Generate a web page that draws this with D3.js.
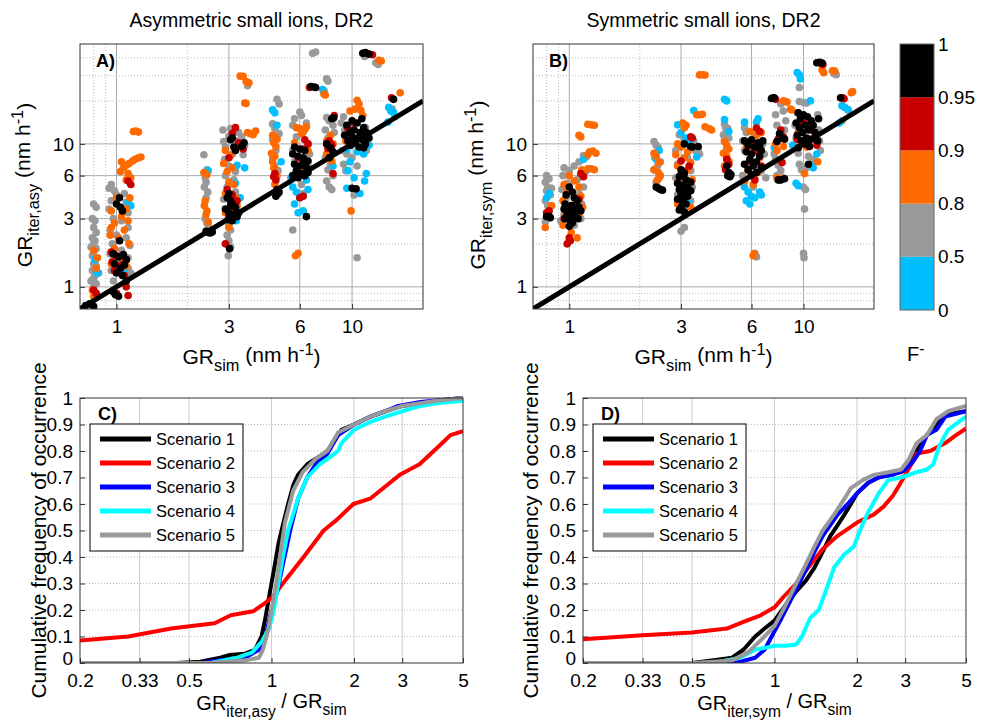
<!DOCTYPE html>
<html><head><meta charset="utf-8">
<script src="https://cdn.jsdelivr.net/npm/d3@7"></script>
<style>body{margin:0;background:#fff} text{font-family:"Liberation Sans",Arial,sans-serif;fill:#000}</style>
</head><body><svg id="c" width="981" height="723"></svg>
<script>
// ---------- DATA ----------
const scatterTicks = [1, 3, 6, 10];
const scatterMinorX = [0.8, 0.9, 2];
const scatterMinorY = [0.8, 0.9, 2, 20, 30, 40];
const classLabels = ["0", "0.5", "0.8", "0.9", "0.95", "1"];
const classColors = ["#00bfff", "#999999", "#ff6a00", "#c80000", "#000000"];

// Panel A (asymmetric) points [GR_sim, GR_iter]
const aGray = [[0.8,3.8],[0.82,3.6],[0.79,3.0],[0.81,2.9],[0.8,2.6],[0.82,2.4],[0.79,2.2],[0.81,2.1],[0.8,2.0],[0.78,1.9],[0.82,1.85],[0.8,1.75],[0.79,1.65],[0.81,1.5],[0.8,1.45],[0.82,1.4],[0.79,1.3],[0.81,1.2],[0.8,1.15],[0.78,1.1],[0.82,1.05],[0.8,1.0],[0.84,1.25],
 [0.95,5.2],[0.93,4.9],[0.98,4.7],[1.0,4.4],[1.08,4.5],[0.95,4.0],[1.1,3.9],[0.93,3.5],[1.12,3.3],[0.97,3.0],[1.05,2.9],[1.12,2.6],[0.94,2.5],[1.0,2.3],[1.1,2.2],[0.96,2.0],[1.14,1.95],[1.05,1.8],[0.94,1.7],[1.12,1.6],[1.0,1.45],[1.12,1.35],[0.95,1.3],[1.15,1.25],[1.1,1.15],[0.97,1.1],
 [2.35,8.4],[2.42,6.6],[2.38,5.8],[2.4,5.4],[2.36,5.0],[2.44,4.6],[2.4,4.2],[2.38,3.0],[2.42,2.8],[2.45,2.7],
 [2.83,12.5],[3.05,12.8],[3.0,11.3],[2.85,10.4],[2.9,9.5],[3.1,8.5],[2.88,7.8],[3.0,7.0],[3.2,6.4],[2.9,6.0],[3.15,5.6],[2.95,5.0],[3.2,4.6],[2.85,4.1],[3.0,2.7],[3.05,2.5],[2.95,2.3],[3.0,2.1],[3.05,1.9],[2.98,1.65],[3.3,12],[3.4,11.2],[3.45,8.4],[3.5,9.8],[3.25,10.5],[3.6,25.5],
 [4.8,20.5],[4.9,19.0],[4.6,13.8],[4.7,12.8],[4.9,11.8],[4.6,10.7],[4.75,9.0],[4.7,7.0],[4.85,6.5],[4.6,8.0],
 [6.0,16.7],[6.1,15.8],[5.7,15.0],[6.4,14.0],[5.6,13.5],[6.2,12.0],[5.8,11.2],[6.5,10.0],[5.6,9.0],[6.6,8.5],[5.7,7.5],[6.6,6.8],[6.1,5.2],[5.6,2.5],[6.2,4.5],
 [6.8,43],[7.0,44],[6.6,25.0],[7.8,28.5],[7.9,27.5],[7.6,23.5],
 [7.8,15.3],[8.0,14.5],[8.3,13.5],[7.7,12.5],[8.4,12.0],[7.9,11.0],[8.2,8.8],[7.7,8.0],[8.1,7.2],[7.9,6.6],[8.3,6.0],[7.8,5.5],[8.0,5.0],[8.2,4.8],
 [9.2,15.5],[9.0,14.0],[9.3,12.5],[11.4,13],[9.1,9.0],[9.5,8.5],[10.0,8.0],[9.2,7.2],[10.5,7.0],[9.4,6.5],[10.2,4.4],[10.5,1.6],[11.5,9.0],
 [11.3,40.8],[12.6,37],[12.9,36],[14.8,17.5],[15.2,15.5]];
const aCyan = [[0.81,1.55],[0.83,1.25],[1.12,3.9],[1.15,3.7],[1.08,1.25],[2.45,6.5],[3.25,7.1],[3.2,5.3],[3.22,2.9],[3.5,6.8],[3.35,4.2],[4.6,17.3],[4.7,16.5],[4.8,13.5],[5.0,7.5],[5.5,5.8],[5.6,5.0],[5.8,4.6],[6.0,4.2],[5.7,3.8],[6.2,3.4],[5.9,3.3],[6.4,5.6],[6.5,4.8],[7.5,24.0],[7.6,22.8],[8.3,7.0],[9.5,9.2],[10.5,8.8],[11.2,8.5],[9.6,6.5],[11.5,6.2],[10.2,5.8],[11.3,5.5],[9.5,4.9],[10.8,4.5],[9.8,7.5],[14.3,18],[14.6,17],[15,16.6],[14.2,14.2],[11.8,9.8]];
const aOrange = [[0.8,1.8],[0.82,1.35],[0.79,0.95],[0.8,0.86],[0.83,1.6],
 [1.12,6.2],[1.15,5.8],[1.1,5.6],[1.0,4.2],[0.95,3.4],[1.1,3.5],[1.05,3.1],[0.98,2.8],[1.12,2.9],[0.95,2.6],[1.08,2.5],[1.02,2.2],[0.94,2.3],[1.13,2.0],[0.98,1.85],[1.06,1.55],[0.95,1.45],[1.1,1.4],[1.14,4.2],
 [1.04,6.4],[1.07,6.8],[1.1,7.1],[1.13,7.3],[1.17,7.6],[1.2,7.8],[1.24,8.0],[1.27,8.1],[1.05,7.5],[1.18,12.2],[1.24,12.1],[1.21,12.3],
 [2.35,6.3],[2.42,6.1],[2.38,4.0],[2.36,3.7],[2.42,3.4],[2.4,3.2],[2.45,2.85],
 [2.9,9.0],[3.05,8.3],[2.85,7.3],[3.1,6.8],[2.95,6.4],[3.0,5.4],[3.15,5.2],[2.9,4.5],[3.2,4.2],[3.25,3.7],[2.9,3.3],[3.1,3.1],[3.0,2.6],[3.6,12.0],[3.7,11.8],[3.8,11.6],[3.9,12.3],[3.35,29.8],[3.45,29.7],[3.55,27.3],[3.65,26.8],[3.5,19.3],[3.55,19.2],
 [4.6,11.5],[4.7,11.2],[4.8,10.8],[4.65,10.2],[4.75,9.6],[4.55,8.6],[4.7,8.2],[4.6,7.5],[4.65,6.8],[4.8,6.0],[4.7,5.2],
 [5.8,13.0],[6.0,12.8],[6.3,12.6],[6.4,13.2],[6.1,11.8],[5.7,10.2],[6.5,9.0],[6.2,7.0],[5.9,1.72],[5.75,1.65],[6.3,7.8],[7.6,22.3],[7.7,22.0],
 [8.1,11.5],[7.8,10.5],[8.3,10.0],[8.0,9.0],[7.8,8.5],[8.2,7.6],
 [10.5,20.2],[10.7,19.0],[10.3,17.5],[10.9,17.2],[9.8,17.0],[11.1,15.8],[9.9,3.4],[11.2,11.5],[9.4,10.5],
 [13.0,38.5],[13.3,38.0],[16.0,22.8]];
const aRed = [[0.8,0.95],[0.82,0.9],[1.12,5.5],[1.15,5.2],[1.0,1.65],[0.96,1.5],[1.05,1.42],[1.1,1.55],[0.98,1.3],[1.08,1.2],[1.0,0.9],[1.12,0.87],[1.1,1.0],[0.95,1.75],
 [3.2,13.0],[3.1,11.8],[3.2,9.3],[3.0,8.0],[2.95,4.8],[3.1,4.4],[3.25,4.0],[3.0,3.2],[3.15,3.6],[2.9,2.0],[3.3,10.2],[3.45,9.2],
 [4.7,6.2],[4.75,5.6],[4.65,5.9],
 [6.3,10.7],[6.5,10.0],[6.2,9.2],[5.9,8.0],[6.0,4.2],[6.2,4.3],[6.6,24.8],
 [8.0,10.5],[8.2,9.8],[7.9,9.3],[8.3,6.2],[8.4,15.8],
 [10.2,14.0],[9.6,12.8],[10.8,11.2],[10.0,10.5],[11.3,10.2],[11.6,42.8],[12.2,42],[14.7,21]];
const aBlack = [[0.74,0.74],[0.77,0.76],[0.8,0.73],
 [1.03,4.2],[1.0,3.8],[1.04,3.6],[1.06,3.4],[1.03,2.1],[0.97,1.7],[1.02,1.62],[1.07,1.68],[1.1,1.55],[0.98,1.45],[1.04,1.35],[1.08,1.42],[1.0,1.25],[1.06,1.2],[0.97,0.92],[0.99,0.88],[1.02,0.86],[1.1,1.1],
 [2.4,2.45],[2.45,2.4],[2.5,2.38],[2.55,2.42],
 [3.1,11.0],[3.05,10.7],[3.15,9.5],[3.2,9.0],[3.0,4.5],[2.95,4.2],[3.05,4.0],[3.1,3.8],[3.2,3.6],[2.9,3.5],[3.0,3.3],[3.12,3.2],[3.25,3.1],[2.98,2.95],[3.1,2.9],[3.02,1.85],[3.05,3.7],[3.3,3.3],[3.4,9.6],[3.48,10.2],
 [4.8,4.8],[4.85,4.5],[4.75,4.3],[4.9,4.6],
 [5.7,9.5],[6.0,9.2],[6.3,9.0],[5.6,8.5],[5.9,8.2],[6.2,8.0],[6.5,7.6],[5.7,7.2],[6.0,7.0],[6.4,6.8],[5.8,6.5],[6.1,6.2],[6.3,6.0],[5.6,6.0],[5.9,5.8],[6.5,6.3],[6.2,7.4],[6.4,3.1],[6.7,25.2],[6.9,25.0],[7.0,24.8],
 [8.2,15.0],[8.35,15.2],[7.8,10.0],[8.1,9.4],[8.3,8.8],[8.0,8.0],
 [11.0,15.0],[10.0,14.5],[10.5,14.0],[9.5,13.5],[11.2,13.0],[10.2,12.5],[9.8,12.0],[10.8,12.0],[11.5,12.0],[9.3,11.5],[10.0,11.2],[10.6,11.0],[11.0,10.8],[9.6,10.5],[10.3,10.2],[11.4,10.0],[9.9,9.8],[10.7,9.5],[11.2,9.4],[10.0,4.9],[10.4,4.85],[11.8,11.0],
 [11.1,43],[11.4,43.5],[11.8,42.5],[15.0,20.5]];

// Panel B (symmetric) points
const bGray = [[0.8,6.0],[0.82,5.7],[0.79,5.4],[0.81,5.0],[0.8,4.7],[0.83,4.4],[0.79,4.0],[0.81,3.7],[0.82,3.5],[0.8,3.0],[0.79,2.85],[0.84,4.9],
 [1.05,7.0],[1.1,7.5],[0.95,6.8],[1.0,6.5],[1.12,6.0],[0.94,6.0],[1.08,5.6],[0.98,5.3],[1.15,5.0],[0.93,4.8],[1.1,4.5],[0.96,4.1],[1.13,3.8],[0.95,3.2],[1.12,3.0],[1.18,8.1],[1.15,8.3],[0.92,2.9],[1.05,2.7],
 [2.3,10.4],[2.35,9.8],[2.4,9.4],[2.32,8.0],[2.45,7.5],[2.38,7.0],[2.3,6.6],[2.42,5.8],[2.35,5.4],
 [2.95,11.6],[3.1,10.8],[2.85,9.0],[3.2,8.0],[2.9,7.2],[3.3,6.5],[2.85,5.8],[3.35,5.0],[2.9,4.4],[3.3,4.0],[3.0,2.45],[3.1,2.6],[3.45,9.0],[3.6,8.5],[3.4,10.5],[3.55,9.2],
 [4.6,13.8],[4.65,13.0],[4.7,12.3],[4.55,11.6],[4.8,11.0],[4.6,10.6],[4.7,9.2],[4.75,12.8],
 [5.6,13.0],[5.7,12.0],[6.2,11.5],[5.5,10.5],[6.7,10.0],[5.6,9.0],[6.8,8.5],[5.8,7.0],[6.6,6.5],[5.5,6.0],[6.9,5.8],[6.2,1.72],[6.3,1.62],[6.1,5.0],
 [8.0,19.0],[8.2,17.0],[7.6,16.0],[8.4,14.5],[7.7,13.5],[8.3,12.5],[7.5,8.5],[7.6,7.8],[7.8,7.1],[8.0,6.5],[7.7,6.0],[8.2,5.8],
 [9.6,19.8],[10.0,19.5],[10.3,19.3],[9.4,16.5],[11.5,16.0],[9.2,13.5],[11.6,12.5],[9.3,11.0],[11.7,10.5],[9.5,8.6],[10.5,8.2],[11.0,7.8],[9.6,7.2],[10.3,6.8],[9.8,6.6],[10.0,5.0],[10.2,4.8],[10.1,3.5],[10.0,1.72],[10.05,1.6],[9.6,24.8],[11.8,9.0],
 [13.5,31],[13.8,30.5],[15.5,17.2],[14.6,14.5]];
const bCyan = [[0.8,4.2],[0.82,4.5],[1.15,7.8],[1.12,3.5],[1.18,6.5],[2.42,9.0],[2.35,7.8],[2.9,13.6],[3.0,12.0],[3.15,11.0],[3.25,10.3],[3.4,17.1],[3.5,8.1],[3.3,5.5],[3.2,3.9],[4.6,20.5],[4.7,20],[4.6,14.8],[4.8,12.2],[5.6,14.2],[6.4,15.0],[6.3,14.2],[5.6,5.0],[5.8,4.6],[6.0,4.3],[5.7,4.0],[6.2,4.2],[6.5,4.6],[6.6,4.4],[5.9,3.8],[7.5,9.4],[9.4,31.6],[9.6,30.5],[9.7,28.5],[10.7,20.0],[10.9,7.1],[11.0,6.8],[9.5,5.1],[9.3,5.3],[11.4,8.5],[14.6,18.5],[15.0,18.0],[15.5,17.4],[14.2,14.0],[9.0,9.8]];
const bOrange = [[0.84,3.7],[0.79,2.6],[0.81,3.2],
 [1.0,6.0],[1.05,5.5],[0.95,5.2],[1.1,5.0],[0.98,4.6],[1.12,4.3],[0.94,4.0],[1.06,3.8],[1.14,3.6],[0.96,3.4],[1.1,3.2],[0.94,2.7],[1.02,2.4],[1.08,2.2],[1.13,6.6],[1.16,6.3],
 [1.2,6.7],[1.24,6.7],[1.28,6.6],[1.22,8.8],[1.26,8.9],[1.3,8.6],[1.2,8.4],[1.1,11.5],[1.12,11.2],[1.2,13.7],[1.24,13.6],[1.28,13.5],
 [2.3,8.6],[2.35,8.2],[2.42,7.4],[2.3,6.6],[2.4,6.3],[2.45,6.0],[2.38,5.6],
 [3.05,14.0],[3.15,13.5],[3.1,13.0],[2.9,10.0],[3.0,9.5],[3.2,8.8],[2.85,8.4],[3.1,8.0],[3.3,7.4],[2.9,7.0],[3.2,6.6],[3.0,6.2],[3.35,5.6],[2.95,5.4],[3.2,4.8],[3.0,4.2],[3.3,3.6],[2.9,3.8],[3.6,30.4],[3.7,30.5],[3.8,30.3],[3.5,16.0],[3.6,16.0],[3.7,16.1],[3.8,13.2],[3.95,12.8],[4.05,12.5],
 [4.6,10.4],[4.7,9.8],[4.8,9.2],[4.55,8.6],[4.7,8.2],[4.8,7.6],[4.6,7.0],
 [5.9,12.2],[6.3,11.5],[6.6,12.0],[6.0,10.0],[5.7,9.5],[6.5,8.0],[5.8,6.5],[6.4,6.3],[6.1,1.65],[6.15,1.7],[5.6,5.5],[6.1,5.2],
 [8.2,20.0],[8.4,19.8],[8.5,19.6],[8.8,17.5],[8.9,17.3],[7.6,10.0],[8.2,9.6],[7.7,9.0],[7.7,5.8],[7.9,5.6],[8.1,5.7],
 [9.8,15.5],[10.6,14.0],[9.5,12.0],[11.2,11.0],[10.1,6.2],[10.3,9.5],[9.7,10.2],[11.5,7.5],
 [12.0,33],[12.2,31.5],[13.3,32.5],[13.6,32.3],[16.0,22.8],[16.2,23.2]];
const bRed = [[0.8,3.3],[0.82,3.4],[1.12,6.2],[1.15,5.9],[1.01,2.1],[1.0,2.2],[0.98,2.0],[1.05,3.6],[1.1,4.1],[0.95,3.0],
 [3.3,11.2],[3.35,11.0],[3.0,7.6],[3.1,6.4],[2.95,5.2],[3.2,4.6],[3.05,3.9],[3.25,7.0],
 [4.7,7.8],[4.8,7.2],[4.65,6.6],
 [6.3,12.9],[6.5,12.2],[6.1,9.5],[6.4,8.8],[5.9,7.6],[6.6,7.0],[6.2,5.6],[6.0,6.0],
 [7.4,21.0],[7.6,20.5],[8.0,12.5],[8.2,11.2],[7.8,10.8],[8.1,7.4],
 [10.0,14.0],[10.8,12.5],[9.4,10.8],[10.5,10.0],[11.4,9.8],[11.9,36.5],[12.1,36.0],[14.7,21],[14.9,20.7]];
const bBlack = [[0.8,3.1],[0.82,3.1],[0.83,3.05],
 [1.0,5.0],[1.03,4.6],[0.97,4.4],[1.05,4.2],[1.08,4.0],[0.96,3.8],[1.02,3.7],[1.1,3.6],[0.95,3.5],[1.0,3.4],[1.06,3.3],[1.12,3.4],[0.98,3.2],[1.04,3.1],[1.09,3.0],[0.96,3.0],[1.01,2.9],[1.03,2.8],[1.0,2.65],[1.06,3.5],
 [2.35,5.0],[2.4,4.9],[2.45,4.8],[2.5,4.75],
 [3.1,10.0],[3.3,9.6],[3.35,9.5],[3.0,6.6],[3.1,6.2],[2.95,5.9],[3.15,5.6],[2.9,5.3],[3.05,5.1],[3.2,5.0],[2.95,4.8],[3.1,4.6],[3.0,4.4],[3.2,4.3],[2.9,4.1],[3.05,4.0],[3.15,3.8],[3.0,3.6],[2.95,3.45],[3.1,3.35],[3.3,5.4],[3.3,4.7],[3.55,9.6],
 [4.8,6.3],[4.9,6.1],[4.85,5.9],[4.75,6.0],[4.7,7.0],
 [5.6,10.5],[6.0,10.7],[6.4,10.2],[5.8,9.8],[6.2,9.5],[6.6,9.0],[5.7,8.8],[6.0,8.5],[6.5,8.2],[5.9,7.8],[6.3,7.5],[5.6,7.2],[6.1,7.0],[6.6,6.8],[5.8,6.6],[6.3,6.3],[6.0,6.1],[6.5,9.8],[6.7,10.5],
 [7.5,21.0],[7.3,20.8],[7.9,11.8],[8.1,11.0],[7.7,10.4],[8.3,10.8],[7.8,5.6],[8.0,5.6],[8.3,5.7],
 [9.5,16.5],[10.0,16.0],[10.4,15.5],[9.7,15.0],[10.8,14.5],[9.3,14.0],[10.2,13.5],[11.0,13.5],[9.6,13.0],[10.5,12.5],[9.9,12.0],[11.2,12.0],[9.4,11.5],[10.3,11.0],[10.8,10.8],[9.8,10.5],[11.5,10.5],[10.1,10.0],[10.6,9.6],[9.5,9.4],[10.5,7.2],[11.6,15.0],
 [11.4,37],[11.7,37.2],[12.0,36.8],[14.4,21.0]];

// CDF panels: [ratio, cumulative frequency]
const cdfTicksX = [0.2, 0.33, 0.5, 1, 2, 3, 5];
const cdfTicksY = [0, 0.1, 0.2, 0.3, 0.4, 0.5, 0.6, 0.7, 0.8, 0.9, 1];
const scenarioNames = ["Scenario 1", "Scenario 2", "Scenario 3", "Scenario 4", "Scenario 5"];
const scenarioColors = ["#000000", "#ff0000", "#0000ff", "#00ffff", "#999999"];
const cS1 = [[0.2,0],[0.45,0],[0.55,0.005],[0.65,0.02],[0.7,0.03],[0.8,0.035],[0.87,0.05],[0.92,0.1],[0.95,0.17],[0.98,0.25],[1.02,0.35],[1.06,0.45],[1.1,0.52],[1.15,0.6],[1.2,0.67],[1.25,0.71],[1.35,0.75],[1.5,0.78],[1.6,0.8],[1.7,0.84],[1.8,0.88],[2.0,0.9],[2.3,0.93],[2.6,0.95],[3,0.97],[4,0.99],[5,1.0]];
const cS2 = [[0.2,0.085],[0.3,0.1],[0.43,0.13],[0.62,0.15],[0.71,0.18],[0.857,0.195],[0.93,0.22],[1.01,0.25],[1.1,0.3],[1.31,0.4],[1.55,0.5],[1.73,0.54],[1.99,0.6],[2.29,0.62],[2.63,0.67],[2.94,0.71],[3.47,0.75],[4.1,0.82],[4.5,0.86],[5,0.875]];
const cS3 = [[0.2,0],[0.55,0],[0.65,0.01],[0.8,0.02],[0.9,0.05],[0.95,0.1],[1.0,0.2],[1.05,0.27],[1.1,0.37],[1.17,0.5],[1.25,0.62],[1.35,0.7],[1.45,0.75],[1.6,0.79],[1.75,0.86],[2.0,0.9],[2.3,0.93],[2.6,0.95],[2.9,0.97],[3.5,0.985],[5,1.0]];
const cS4 = [[0.2,0],[0.6,0],[0.75,0.02],[0.85,0.04],[0.92,0.08],[0.98,0.13],[1.02,0.2],[1.06,0.3],[1.1,0.4],[1.15,0.5],[1.25,0.62],[1.35,0.7],[1.5,0.75],[1.65,0.78],[1.75,0.8],[1.8,0.83],[2.0,0.88],[2.3,0.91],[2.6,0.93],[3.0,0.95],[3.5,0.97],[4,0.98],[5,0.99]];
const cS5 = [[0.2,0],[0.6,0],[0.8,0.01],[0.9,0.02],[0.93,0.05],[0.97,0.12],[1.0,0.2],[1.04,0.3],[1.08,0.42],[1.12,0.53],[1.2,0.65],[1.3,0.72],[1.45,0.77],[1.6,0.8],[1.75,0.87],[2.0,0.9],[2.3,0.93],[2.6,0.95],[3,0.97],[4,0.99],[5,1.0]];
const dS1 = [[0.2,0],[0.5,0],[0.6,0.01],[0.7,0.02],[0.77,0.05],[0.85,0.1],[0.92,0.13],[1.0,0.16],[1.1,0.22],[1.2,0.27],[1.3,0.31],[1.4,0.36],[1.5,0.42],[1.6,0.48],[1.7,0.52],[1.8,0.56],[1.9,0.6],[2.0,0.64],[2.2,0.68],[2.5,0.71],[2.9,0.72],[3.1,0.74],[3.3,0.8],[3.6,0.86],[4.0,0.91],[4.3,0.94],[5,0.95]];
const dS2 = [[0.2,0.09],[0.33,0.105],[0.5,0.115],[0.67,0.13],[0.77,0.155],[0.89,0.18],[1.0,0.21],[1.08,0.25],[1.2,0.3],[1.35,0.37],[1.5,0.43],[1.7,0.48],[2.0,0.53],[2.3,0.56],[2.5,0.59],[2.7,0.63],[2.85,0.67],[3.0,0.71],[3.2,0.76],[3.3,0.79],[3.7,0.8],[4.2,0.83],[4.6,0.86],[5,0.885]];
const dS3 = [[0.2,0],[0.6,0],[0.75,0.005],[0.85,0.02],[0.92,0.05],[1.0,0.12],[1.05,0.16],[1.15,0.24],[1.3,0.35],[1.4,0.42],[1.5,0.48],[1.7,0.56],[1.85,0.6],[2.0,0.64],[2.2,0.68],[2.4,0.7],[2.7,0.71],[3.0,0.73],[3.2,0.76],[3.4,0.8],[3.6,0.86],[3.9,0.88],[4.2,0.93],[4.6,0.94],[5,0.95]];
const dS4 = [[0.2,0],[0.6,0],[0.75,0.02],[0.85,0.05],[0.95,0.06],[1.0,0.065],[1.1,0.065],[1.2,0.07],[1.26,0.1],[1.35,0.17],[1.45,0.2],[1.55,0.28],[1.65,0.36],[1.8,0.41],[1.95,0.44],[2.05,0.5],[2.2,0.57],[2.4,0.64],[2.6,0.69],[2.9,0.7],[3.3,0.72],[3.6,0.73],[3.8,0.75],[4.0,0.82],[4.3,0.88],[4.7,0.91],[5,0.93]];
const dS5 = [[0.2,0],[0.5,0],[0.6,0.005],[0.7,0.01],[0.8,0.04],[0.9,0.09],[1.0,0.14],[1.1,0.22],[1.2,0.3],[1.3,0.37],[1.4,0.44],[1.5,0.5],[1.65,0.56],[1.8,0.62],[1.9,0.66],[2.1,0.69],[2.3,0.71],[2.6,0.72],[2.9,0.73],[3.1,0.77],[3.3,0.83],[3.6,0.86],[3.9,0.92],[4.3,0.95],[5,0.97]];

// ---------- DRAW ----------
const svg = d3.select("#c");
const FS = 19;    // tick labels
const LFS = 21;   // axis labels

function rich(g, parts, x, y, opts) {
  opts = opts || {};
  const t = g.append("text").attr("x", x).attr("y", y)
    .attr("font-size", opts.size || LFS).attr("text-anchor", opts.anchor || "middle");
  if (opts.rotate) t.attr("transform", `rotate(-90,${x},${y})`);
  let shift = 0;
  parts.forEach(p => {
    const [s, k] = p;
    const target = k === "sub" ? 0.42 : (k === "sup" ? -0.45 : 0);
    const ts = t.append("tspan").text(s).attr("dy", (target - shift) + "em");
    if (k) ts.attr("font-size", "0.78em");
    shift = target;
  });
  return t;
}

function scatterPanel(o) {
  const g = svg.append("g");
  const x = d3.scaleLog().domain([0.7, 20]).range([o.left, o.right]);
  const y = d3.scaleLog().domain([0.7, 50]).range([309, 44]);
  const [x0, x1] = x.range(), [y0, y1] = y.range();
  scatterMinorX.forEach(v => g.append("line").attr("x1", x(v)).attr("x2", x(v)).attr("y1", y0).attr("y2", y1).attr("stroke", "#bbb").attr("stroke-dasharray", "1,2"));
  scatterMinorY.forEach(v => g.append("line").attr("y1", y(v)).attr("y2", y(v)).attr("x1", x0).attr("x2", x1).attr("stroke", "#bbb").attr("stroke-dasharray", "1,2"));
  scatterTicks.forEach(v => {
    g.append("line").attr("x1", x(v)).attr("x2", x(v)).attr("y1", y0).attr("y2", y1).attr("stroke", "#aaa");
    g.append("line").attr("y1", y(v)).attr("y2", y(v)).attr("x1", x0).attr("x2", x1).attr("stroke", "#aaa");
  });
  const cid = "clip" + o.id;
  svg.append("clipPath").attr("id", cid).append("rect").attr("x", x0).attr("y", y1).attr("width", x1 - x0).attr("height", y0 - y1);
  const pg = g.append("g").attr("clip-path", `url(#${cid})`);
  const sets = [[o.gray, classColors[1]], [o.cyan, classColors[0]], [o.orange, classColors[2]], [o.red, classColors[3]], [o.black, classColors[4]]];
  sets.forEach(([pts, col]) => {
    pg.selectAll(null).data(pts).enter().append("circle")
      .attr("cx", d => x(d[0])).attr("cy", d => y(d[1])).attr("r", 3.8).attr("fill", col);
  });
  pg.append("line").attr("x1", x(0.7)).attr("y1", y(0.7)).attr("x2", x(20)).attr("y2", y(20))
    .attr("stroke", "#000").attr("stroke-width", 5);
  g.append("rect").attr("x", x0).attr("y", y1).attr("width", x1 - x0).attr("height", y0 - y1).attr("fill", "none").attr("stroke", "#333");
  const ax = g.append("g").attr("transform", `translate(0,${y0})`).call(d3.axisBottom(x).tickValues(scatterTicks).tickFormat(d3.format("d")).tickSizeInner(-5).tickSizeOuter(0).tickPadding(11));
  const ay = g.append("g").attr("transform", `translate(${x0},0)`).call(d3.axisLeft(y).tickValues(scatterTicks).tickFormat(d3.format("d")).tickSizeInner(-5).tickSizeOuter(0).tickPadding(6));
  [ax, ay].forEach(a => { a.select(".domain").remove(); a.selectAll("text").attr("font-size", FS).attr("font-family", "Liberation Sans, Arial, sans-serif"); a.selectAll("line").attr("stroke", "#333"); });
  ax.selectAll("text").attr("dy", "0.71em");
  g.append("text").attr("x", x0 + 16).attr("y", 67).attr("font-size", 18).attr("font-weight", "bold").text(o.letter);
  g.append("text").attr("x", (x0 + x1) / 2).attr("y", 27).attr("text-anchor", "middle").attr("font-size", 19.5).text(o.title);
  rich(g, [["GR"], ["sim", "sub"], [" (nm h"], ["-1", "sup"], [")"]], (x0 + x1) / 2, 364);
  rich(g, [["GR"], ["iter," + o.sub, "sub"], [" (nm h"], ["-1", "sup"], [")"]], o.ylabX, 185, { rotate: true });
}

scatterPanel({ id: "A", left: 80, right: 423, letter: "A)", title: "Asymmetric small ions, DR2", sub: "asy", ylabX: 32,
  gray: aGray, cyan: aCyan, orange: aOrange, red: aRed, black: aBlack });
scatterPanel({ id: "B", left: 533, right: 874, letter: "B)", title: "Symmetric small ions, DR2", sub: "sym", ylabX: 485,
  gray: bGray, cyan: bCyan, orange: bOrange, red: bRed, black: bBlack });

// colorbar
(function () {
  const g = svg.append("g");
  const cb = d3.scaleBand().domain(d3.range(classColors.length)).range([310, 44]).paddingInner(0).paddingOuter(0);
  classColors.forEach((c, i) => g.append("rect").attr("x", 900).attr("y", cb(i)).attr("width", 34).attr("height", cb.bandwidth()).attr("fill", c));
  g.append("rect").attr("x", 900).attr("y", 44).attr("width", 34).attr("height", 266).attr("fill", "none").attr("stroke", "#666");
  classLabels.forEach((l, i) => {
    const yy = i < classColors.length ? cb(i) + cb.bandwidth() : cb(i - 1);
    g.append("text").attr("x", 938).attr("y", yy + 6.5).attr("font-size", FS).text(l);
  });
  rich(g, [["F"], ["-", "sup"]], 907, 361, { anchor: "start", size: 20 });
})();

function cdfPanel(o) {
  const g = svg.append("g");
  const x = d3.scaleLog().domain([0.2, 5]).range([o.left, o.left + 383]);
  const y = d3.scaleLinear().domain([0, 1]).range([663, 398]);
  const [x0, x1] = x.range(), [y0, y1] = y.range();
  cdfTicksX.slice(1, -1).forEach(v => g.append("line").attr("x1", x(v)).attr("x2", x(v)).attr("y1", y0).attr("y2", y1).attr("stroke", "#ccc"));
  cdfTicksY.slice(1, -1).forEach(v => g.append("line").attr("y1", y(v)).attr("y2", y(v)).attr("x1", x0).attr("x2", x1).attr("stroke", "#bbb").attr("stroke-dasharray", "1,2"));
  const cid = "clip" + o.id;
  svg.append("clipPath").attr("id", cid).append("rect").attr("x", x0).attr("y", y1 - 3).attr("width", x1 - x0).attr("height", y0 - y1 + 3);
  const lg = g.append("g").attr("clip-path", `url(#${cid})`);
  const line = d3.line().x(d => x(d[0])).y(d => y(d[1]));
  o.series.forEach((s, i) => lg.append("path").attr("d", line(s)).attr("fill", "none").attr("stroke", scenarioColors[i]).attr("stroke-width", 4).attr("stroke-linejoin", "round"));
  g.append("rect").attr("x", x0).attr("y", y1).attr("width", x1 - x0).attr("height", y0 - y1).attr("fill", "none").attr("stroke", "#333");
  const ax = g.append("g").attr("transform", `translate(0,${y0})`).call(d3.axisBottom(x).tickValues(cdfTicksX).tickFormat(d => String(d)).tickSizeInner(-5).tickSizeOuter(0).tickPadding(11));
  const ay = g.append("g").attr("transform", `translate(${x0},0)`).call(d3.axisLeft(y).tickValues(cdfTicksY).tickFormat(d => String(d)).tickSizeInner(-5).tickSizeOuter(0).tickPadding(7));
  [ax, ay].forEach(a => { a.select(".domain").remove(); a.selectAll("text").attr("font-size", FS).attr("font-family", "Liberation Sans, Arial, sans-serif"); a.selectAll("line").attr("stroke", "#333"); });
  ax.selectAll("text").attr("dy", "0.71em");
  ay.selectAll("text").filter(d => d === 0).attr("dy", "0.1em");
  g.append("text").attr("x", x0 + 18).attr("y", 420).attr("font-size", 18).attr("font-weight", "bold").text(o.letter);
  const lx = x0 + 10, ly = 424;
  g.append("rect").attr("x", lx).attr("y", ly).attr("width", 153).attr("height", 127).attr("fill", "#fff").attr("stroke", "#000");
  scenarioNames.forEach((n, i) => {
    const yy = ly + 15 + i * 24;
    g.append("line").attr("x1", lx + 10).attr("x2", lx + 61).attr("y1", yy).attr("y2", yy).attr("stroke", scenarioColors[i]).attr("stroke-width", 5);
    g.append("text").attr("x", lx + 66).attr("y", yy + 6).attr("font-size", 16.5).text(n);
  });
  rich(g, [["Cumulative frequency of occurrence"]], o.ylabX, (y0 + y1) / 2, { rotate: true });
  rich(g, [["GR"], ["iter," + o.sub, "sub"], [" / GR"], ["sim", "sub"]], (x0 + x1) / 2, 710, { size: 20 });
}
cdfPanel({ id: "C", left: 80, letter: "C)", sub: "asy", ylabX: 46, series: [cS1, cS2, cS3, cS4, cS5] });
cdfPanel({ id: "D", left: 583, letter: "D)", sub: "sym", ylabX: 538, series: [dS1, dS2, dS3, dS4, dS5] });
</script></body></html>
